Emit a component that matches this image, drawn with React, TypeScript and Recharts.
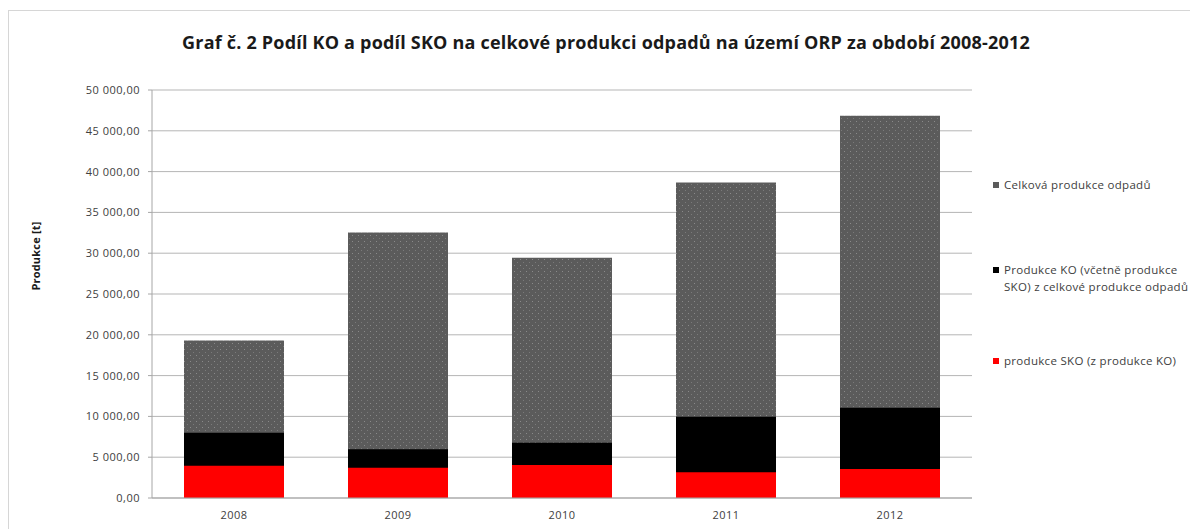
import React from 'react';
import { BarChart, Bar, XAxis, YAxis, CartesianGrid } from 'recharts';

const years = ['2008', '2009', '2010', '2011', '2012'];
const celkovaProdukce = [19300, 32550, 29450, 38650, 46850];
const produkceKO = [8000, 5970, 6780, 9970, 11070];
const produkceSKO = [3960, 3720, 4040, 3150, 3550];
const yTicks = [0, 5000, 10000, 15000, 20000, 25000, 30000, 35000, 40000, 45000, 50000];
const boundaryTicks = [0, 1, 2, 3, 4, 5];

const series = [
  { key: 'celkova', name: 'Celková produkce odpadů', color: '#5b5b5b', fill: 'url(#dots)' },
  { key: 'ko', name: 'Produkce KO (včetně produkce SKO) z celkové produkce odpadů', color: '#000000', fill: '#000000' },
  { key: 'sko', name: 'produkce SKO (z produkce KO)', color: '#ff0000', fill: '#ff0000' },
];

const data = years.map((y, i) => ({
  year: y,
  celkova: celkovaProdukce[i],
  ko: produkceKO[i],
  sko: produkceSKO[i],
}));

const fmt = (v: number) => {
  const [int, dec] = v.toFixed(2).split('.');
  return int.replace(/\B(?=(\d{3})+(?!\d))/g, ' ') + ',' + dec;
};

const font = '"Open Sans", sans-serif';
const tickStyle = { fontSize: 11, fill: '#404040', fontFamily: font, letterSpacing: 0.5 };
// legend rows (page y of first text line), tuned to the reference
const legendTop = [175, 260, 351];

export default function App() {
  return (
    <div style={{ position: 'relative', width: 1190, height: 521, overflow: 'hidden', fontFamily: font }}>
      <div style={{ position: 'absolute', left: 0, top: 2, width: 1220, height: 560, border: '1px solid #d6d6d6', background: '#fff' }}>
        <div style={{ position: 'absolute', left: 0, top: 19, width: 1194, textAlign: 'center', fontSize: 18, letterSpacing: 0.2, fontWeight: 700, color: '#1a1a1a' }}>
          Graf č. 2 Podíl KO a podíl SKO na celkové produkci odpadů na území ORP za období 2008-2012
        </div>
        <div style={{ position: 'absolute', left: 26, top: 245, width: 0, height: 0 }}>
          <div style={{ position: 'absolute', transform: 'translate(-50%, -50%) rotate(-90deg)', whiteSpace: 'nowrap', fontSize: 11, letterSpacing: 0.2, fontWeight: 700, color: '#1a1a1a' }}>
            Produkce [t]
          </div>
        </div>
        <BarChart
          width={1189}
          height={518}
          data={data}
          margin={{ top: 79, right: 226, left: 0, bottom: 9 }}
          barSize={100}
          barGap={-100}
        >
          <defs>
            <pattern id="dots" width="6" height="6" patternUnits="userSpaceOnUse">
              <rect width="6" height="6" fill="#5b5b5b" />
              <rect x="1" y="2" width="1" height="1" fill="#8a8a8a" />
              <rect x="4" y="5" width="1" height="1" fill="#7a7a7a" />
            </pattern>
          </defs>
          <CartesianGrid vertical={false} stroke="#b5b5b5" />
          <XAxis
            xAxisId="bounds"
            type="number"
            domain={[0, 5]}
            allowDataOverflow
            ticks={boundaryTicks}
            height={0}
            tick={false}
            tickSize={4}
            axisLine={false}
            tickLine={{ stroke: '#a6a6a6' }}
          />
          <XAxis
            dataKey="year"
            height={22}
            tickLine={false}
            tickMargin={7}
            axisLine={{ stroke: '#a6a6a6' }}
            tick={tickStyle}
          />
          <YAxis
            width={143}
            domain={[0, 50000]}
            ticks={yTicks}
            tickFormatter={fmt}
            tickSize={4}
            tickMargin={8}
            interval={0}
            axisLine={{ stroke: '#a6a6a6' }}
            tickLine={{ stroke: '#a6a6a6' }}
            tick={tickStyle}
          />
          {series.map((s) => (
            <Bar key={s.key} dataKey={s.key} name={s.name} fill={s.fill} isAnimationActive={false} />
          ))}
        </BarChart>
        {series.map((s, i) => (
          <div key={s.key} style={{ position: 'absolute', left: 984, top: legendTop[i] - 10, width: 200, fontSize: 11.5, letterSpacing: 0.3, lineHeight: '17px', color: '#404040' }}>
            <span style={{ position: 'absolute', left: 0, top: 6, width: 6, height: 6, background: s.color }} />
            <div style={{ paddingLeft: 11, width: 186 }}>{s.name}</div>
          </div>
        ))}
      </div>
    </div>
  );
}
